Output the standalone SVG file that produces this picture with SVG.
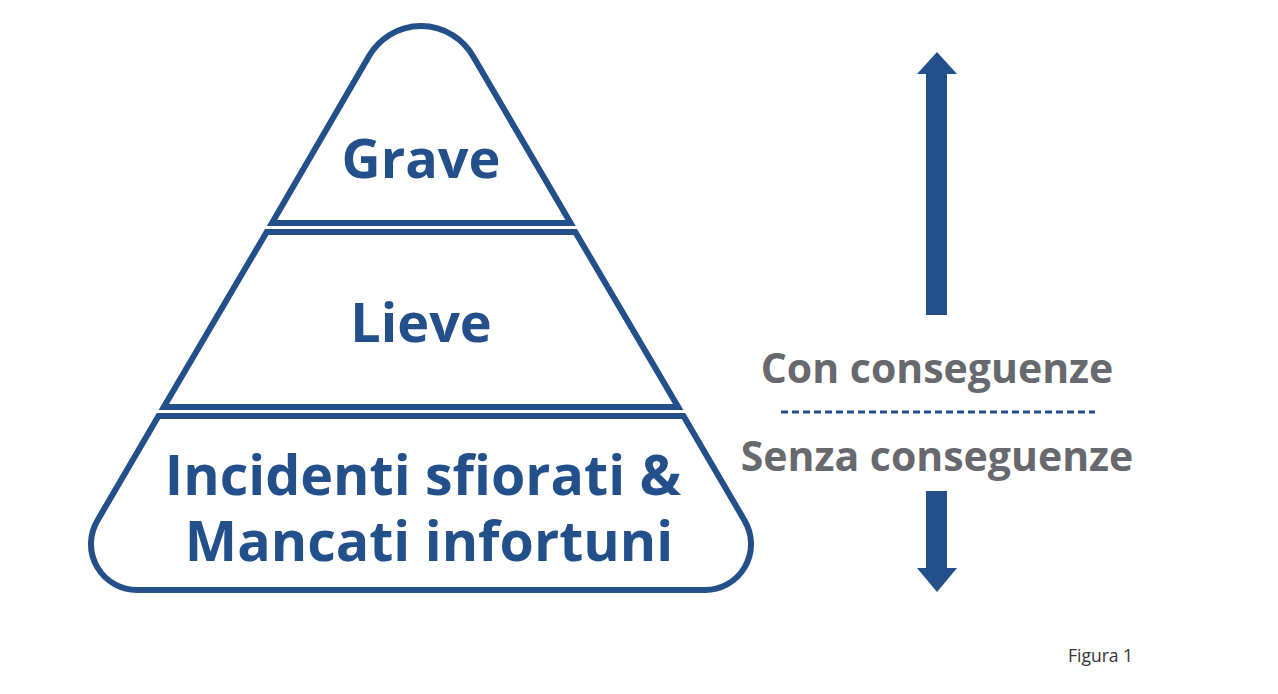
<svg xmlns="http://www.w3.org/2000/svg" width="1278" height="694" viewBox="0 0 1278 694">
<style>
.tier{fill:#ffffff;stroke:#234f8b;stroke-width:6;stroke-linejoin:miter;stroke-miterlimit:4}
.pt{font-family:"Open Sans","Liberation Sans",sans-serif;font-weight:700;font-size:54px;fill:#234f8b;text-anchor:middle}
.pb{font-size:55.5px}
.gt{font-family:"Open Sans","Liberation Sans",sans-serif;font-weight:700;font-size:41px;fill:#67696e;text-anchor:middle}
.arrow{fill:#234f8b}
.cap{font-family:"Open Sans","Liberation Sans",sans-serif;font-size:17.5px;fill:#333333}
</style>
<rect width="1278" height="694" fill="#ffffff"/>
<g id="tier-grave">
<path class="tier" d="M272,223 L369.2,55.8 A60,60 0 0 1 472.8,55.8 L570.6,223 Z"/>
<text class="pt" x="421" y="178">Grave</text>
</g>
<g id="tier-lieve">
<path class="tier" d="M266.7,232 L575.3,232 L678.2,407 L163.8,407 Z"/>
<text class="pt" x="421" y="342">Lieve</text>
</g>
<g id="tier-incidenti">
<path class="tier" d="M158.5,416 L683.5,416 L744.8,520.9 A46,46 0 0 1 705.2,590 L136.8,590 A46,46 0 0 1 97.2,520.9 Z"/>
<text class="pt pb" x="423" y="495">Incidenti sfiorati &amp;</text>
<text class="pt pb" x="429" y="561">Mancati infortuni</text>
</g>
<g id="connectors">
<path class="arrow" d="M937,52 L957,74 L947,74 L947,315 L926,315 L926,74 L917,74 Z"/>
<path class="arrow" d="M926,491 L947,491 L947,568 L957,568 L937,592 L917,568 L926,568 Z"/>
<line x1="781" y1="412" x2="1095" y2="412" stroke="#234f8b" stroke-width="3" stroke-dasharray="7,4"/>
</g>
<g id="label-con">
<text class="gt" x="937" y="383">Con conseguenze</text>
</g>
<g id="label-senza">
<text class="gt" x="937" y="471">Senza conseguenze</text>
</g>
<g id="caption">
<text class="cap" x="1068" y="662">Figura 1</text>
</g>
</svg>
